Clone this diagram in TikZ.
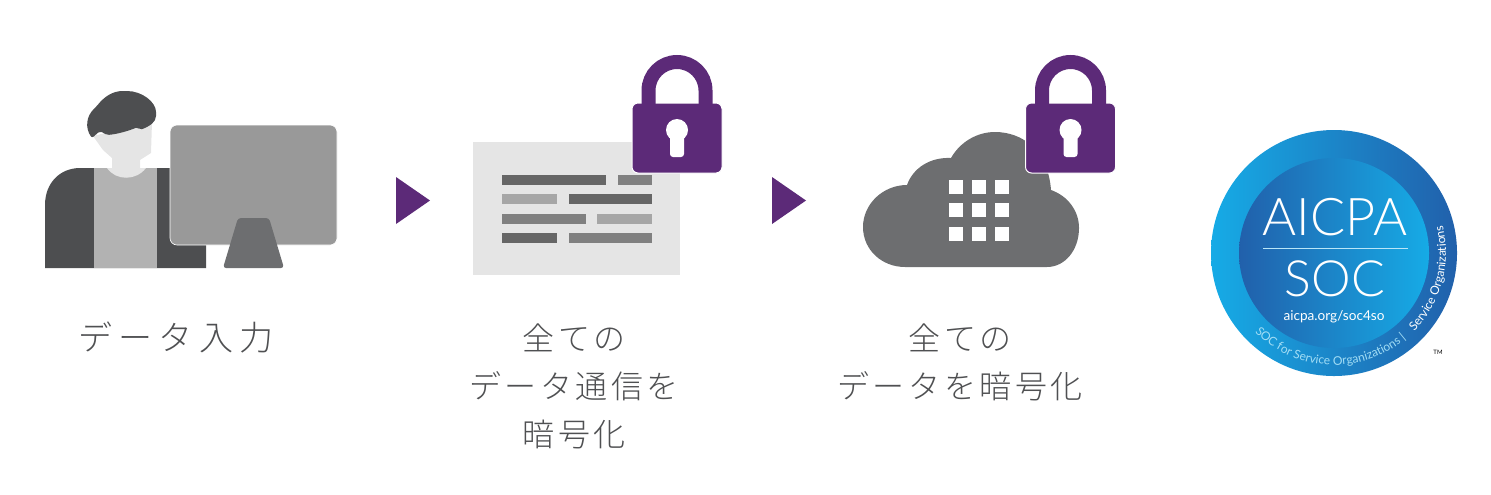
\documentclass[tikz,border=0pt]{standalone}
\usepackage{fontspec}
\setmainfont{Noto Sans CJK JP Light}[LetterSpace=11]
\newfontfamily\widefont{Noto Sans CJK JP Light}[LetterSpace=18]
\newfontfamily\badgefont{Lato Light}
\newfontfamily\badgesmall{Lato}
\usetikzlibrary{decorations.text}
\definecolor{lockpurple}{HTML}{5C2A78}
\definecolor{labelgray}{HTML}{4F5052}
\definecolor{hairgray}{HTML}{4D4E50}
\definecolor{standgray}{HTML}{6D6E70}
\definecolor{ringlight}{HTML}{16ABE6}
\definecolor{ringdark}{HTML}{2160AB}
\tikzset{
  steplabel/.style={text=labelgray,align=center,font=\fontsize{16}{24}\selectfont},
  badgetext/.style={text=white,font=\badgefont\fontsize{#1}{#1}\selectfont,inner sep=0pt},
  barbox/.style={fill=#1,draw=none},
  lockicon/.pic={
    \fill[lockpurple,draw=white,line width=.5pt,rounded corners=3pt] (-45,-27) rectangle (45,43);
    \draw[lockpurple,line width=7pt] (-28.5,-25) -- (-28.5,-39.5) arc (180:360:28.5) -- (28.5,-25);
    \fill[white] (0,0) circle [radius=11];
    \fill[white,rounded corners=1.5pt] (-7,2) rectangle (7,27);
  }
}
\begin{document}
\begin{tikzpicture}[x=.5pt,y=-.5pt]
  \useasboundingbox (0,0) rectangle (1491,494);
  % person
  \fill[hairgray] (45,268) -- (45,205) .. controls (45,183) and (60,168) .. (80,168) -- (206,168) -- (206,268) -- cycle;
  \fill[black!30] (94,168) -- (157,168) -- (157,268) -- (94,268) -- cycle;
  \fill[black!10] (93,136) -- (103,150) -- (112,158) -- (112,168) -- (107,168) .. controls (116,181) and (136,181) .. (146,168) -- (140,168) -- (140,160) -- (151,153) -- (152,122) -- cycle;
  \fill[hairgray,rounded corners=1pt] (92,138) .. controls (85,128) and (86,116) .. (96,107) .. controls (104,97) and (112,91) .. (125,91) .. controls (142,91) and (156,102) .. (156,114) .. controls (156,122) and (150,126) .. (140,130) -- (138,127) .. controls (128,131) and (118,134) .. (107,135) -- (100,131) -- cycle;
  % monitor
  \fill[black!40,draw=white,line width=.3pt,rounded corners=3.5pt] (170,125) rectangle (337,245);
  \fill[standgray,rounded corners=1.5pt] (223,268) -- (238,218) -- (269,218) -- (284,268) -- cycle;
  % arrows
  \fill[lockpurple] (396,177) -- (430,200.5) -- (396,224) -- cycle;
  \fill[lockpurple] (772,177) -- (806,200.5) -- (772,224) -- cycle;
  % document
  \fill[black!10] (473,142) rectangle (680,275);
  \foreach \xa/\xb/\ya/\yb/\barcol in {502/606/175/185/black!60,618/652/175/185/black!50,
    502/557/194/204/black!35,569/652/194/204/black!60,
    502/586/214/224/black!50,597/652/214/224/black!35,
    502/557/233/243/black!60,569/652/233/243/black!50}
    \fill[barbox=\barcol] (\xa,\ya) rectangle (\xb,\yb);
  \pic at (677,130) {lockicon};
  % cloud
  \fill[standgray] (905,267) .. controls (882,267) and (863,250) .. (863,227) .. controls (863,204) and (883,185) .. (907,185)
    .. controls (913,168) and (930,157) .. (951,158) .. controls (960,142) and (977,132) .. (995,132)
    .. controls (1022,132) and (1048,150) .. (1051,190) .. controls (1068,196) and (1079,211) .. (1079,228)
    .. controls (1079,250) and (1065,267) .. (1047,267) -- cycle;
  \foreach \xa in {949,972,995}
    \foreach \ya in {180,203,227}
      \fill[white] (\xa,\ya) rectangle +(14,14);
  \pic at (1070.5,130) {lockicon};
  % badge
  \shade[left color=ringlight,right color=ringdark] (1334,253) circle [radius=123];
  \shade[left color=ringdark,right color=ringlight] (1334,253) circle [radius=95];
  \node[badgetext=26] (aicpa) at (1335,217) {AICPA};
  \node[badgetext=25] (soc) at (1335,279) {SOC};
  \node[text=white,font=\badgesmall\fontsize{6.8}{7}\selectfont,inner sep=0pt] (url) at (1334,317) {aicpa.org/soc4so};
  \draw[white!70!ringlight,line width=.5pt] (1263,248) -- (1408,248);
  \path[decorate,decoration={text along path,text format delimiters={[}{]},text align=center,
    text={[\badgesmall\fontsize{6}{6}\selectfont\color{white!60!ringlight}]SOC for Service Organizations  |}}]
    (1334,253) ++(136:112) arc (136:49:112);
  \path[decorate,decoration={text along path,text format delimiters={[}{]},text align=center,
    text={[\badgesmall\fontsize{6}{6}\selectfont\color{white}]Service Organizations}}]
    (1334,253) ++(47:112) arc (47:-17:112);
  \node[inner sep=0pt,font=\badgesmall\fontsize{3}{3}\selectfont] (tm) at (1438,352) {TM};
  % labels
  \node[steplabel,font=\widefont\fontsize{17}{24}\selectfont] (input) at (176,337) {データ入力};
  \node[steplabel] (transit) at (574,386) {全ての\\データ通信を\\暗号化};
  \node[steplabel] (storage) at (960,362) {全ての\\データを暗号化};
\end{tikzpicture}
\end{document}
